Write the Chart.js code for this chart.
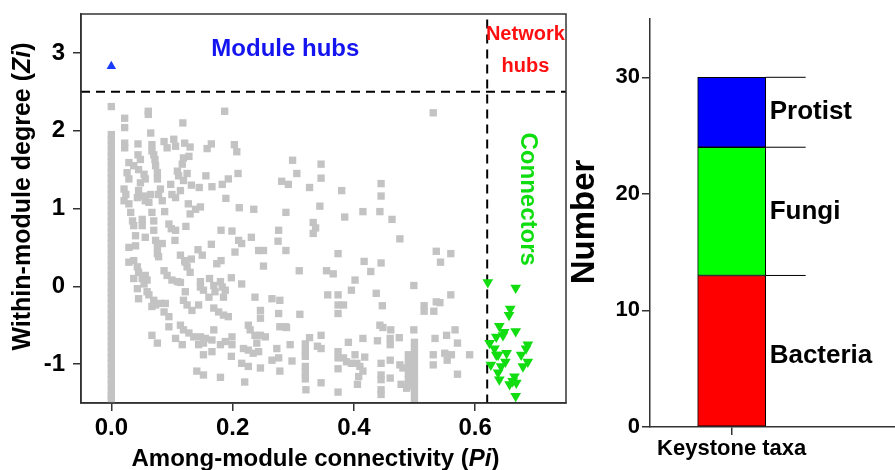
<!DOCTYPE html>
<html lang="en">
<head>
    <meta charset="UTF-8">
    <title>Keystone taxa</title>
    <script src="https://cdn.jsdelivr.net/npm/chart.js"></script>
    <style>
        body{
            margin: 0;
            background: #fff;
        }
        #wrap{
            position: relative;
            width: 895px;
            height: 470px;
            overflow: hidden;
        }
        #zp{ position: absolute; left: 0; top: 0; }
        #bar{ position: absolute; left: 565px; top: 0; }
    </style>
</head>
<body>
<div id="wrap">
    <canvas id="zp" width="575" height="470"></canvas>
    <canvas id="bar" width="330" height="470"></canvas>
</div>

<script>
// ---- data ----
const piTicks = [0, 0.2, 0.4, 0.6];
const ziTicks = [-1, 0, 1, 2, 3];
const piThreshold = 0.62;
const ziThreshold = 2.5;

// module hub (Pi, Zi)
const moduleHubs = [[0.0, 2.83]];

// connectors (Pi, Zi)
const connectors = [
    [0.621, 0.05], [0.667, -0.02], [0.658, -0.29], [0.656, -0.37],
    [0.640, -0.51], [0.648, -0.59], [0.646, -0.63], [0.667, -0.58],
    [0.635, -0.65], [0.624, -0.73], [0.632, -0.80], [0.635, -0.88],
    [0.638, -0.88], [0.652, -0.86], [0.676, -0.88], [0.687, -0.75],
    [0.684, -0.80], [0.687, -0.97], [0.679, -1.03], [0.650, -0.97],
    [0.643, -1.03], [0.626, -1.01], [0.638, -1.11], [0.640, -1.20],
    [0.665, -1.16], [0.662, -1.22], [0.657, -1.26], [0.668, -1.24],
    [0.667, -1.41]
];

// peripherals, column of nodes at Pi = 0
const peripheralsZero = [
    1.95, 1.88, 1.81, 1.74, 1.67, 1.60, 1.53, 1.46, 1.39, 1.32, 1.25, 1.18,
    1.11, 1.04, 0.97, 0.90, 0.83, 0.76, 0.69, 0.62, 0.55, 0.48, 0.41, 0.34,
    0.27, 0.20, 0.13, 0.06, -0.01, -0.08, -0.15, -0.22, -0.29, -0.36, -0.43,
    -0.50, -0.57, -0.64, -0.71, -0.78, -0.85, -0.92, -0.99, -1.06, -1.13,
    -1.20, -1.27, -1.34, -1.41, -1.45
];

// peripherals (Pi, Zi)
const peripherals = [
    [0.0, 2.31], [0.061, 2.25], [0.061, 2.21], [0.187, 2.25], [0.022, 2.16], [0.022, 2.04],
    [0.118, 2.10], [0.065, 1.97], [0.022, 1.84], [0.022, 1.78], [0.044, 1.83], [0.067, 1.82],
    [0.067, 1.74], [0.087, 1.86], [0.103, 1.89], [0.106, 1.80], [0.092, 1.78], [0.121, 1.84],
    [0.130, 1.79], [0.165, 1.83], [0.158, 1.77], [0.203, 1.82], [0.207, 1.73], [0.044, 1.69],
    [0.048, 1.63], [0.029, 1.59], [0.037, 1.55], [0.070, 1.69], [0.072, 1.63], [0.119, 1.65],
    [0.128, 1.67], [0.117, 1.57], [0.026, 1.46], [0.029, 1.38], [0.045, 1.50], [0.054, 1.44],
    [0.056, 1.38], [0.048, 1.33], [0.073, 1.55], [0.076, 1.46], [0.076, 1.38], [0.109, 1.48],
    [0.111, 1.42], [0.125, 1.45], [0.098, 1.31], [0.119, 1.36], [0.132, 1.30], [0.145, 1.27],
    [0.166, 1.28], [0.183, 1.31], [0.193, 1.38], [0.156, 1.42], [0.209, 1.45], [0.281, 1.35],
    [0.292, 1.31], [0.021, 1.25], [0.024, 1.18], [0.021, 1.10], [0.029, 1.06], [0.045, 1.23],
    [0.043, 1.14], [0.054, 1.16], [0.056, 1.10], [0.065, 1.18], [0.062, 1.08], [0.081, 1.25],
    [0.078, 1.18], [0.100, 1.18], [0.106, 1.14], [0.114, 1.23], [0.084, 1.10], [0.127, 1.06],
    [0.139, 0.99], [0.147, 1.02], [0.130, 0.93], [0.189, 1.13], [0.211, 1.01], [0.235, 0.99],
    [0.032, 0.95], [0.035, 0.84], [0.037, 0.78], [0.051, 0.86], [0.051, 0.78], [0.067, 0.95],
    [0.070, 0.84], [0.088, 0.96], [0.095, 0.80], [0.099, 0.74], [0.106, 0.72], [0.123, 0.77],
    [0.040, 0.65], [0.056, 0.63], [0.070, 0.72], [0.073, 0.59], [0.076, 0.50], [0.084, 0.55],
    [0.105, 0.59], [0.029, 0.50], [0.040, 0.52], [0.165, 0.54], [0.181, 0.72], [0.199, 0.71],
    [0.210, 0.59], [0.215, 0.55], [0.231, 0.63], [0.143, 0.47], [0.243, 0.46], [0.251, 0.46],
    [0.276, 0.72], [0.275, 0.58], [0.288, 0.95], [0.288, 0.46],
    [0.531, 2.23], [0.299, 1.62], [0.346, 1.57], [0.306, 1.45], [0.346, 1.39], [0.327, 1.27],
    [0.380, 1.23], [0.445, 1.32], [0.445, 1.16], [0.344, 1.03], [0.385, 0.89], [0.415, 0.96],
    [0.443, 0.96], [0.463, 0.86], [0.333, 0.82], [0.337, 0.75], [0.333, 0.68], [0.476, 0.61],
    [0.374, 0.42], [0.536, 0.45], [0.560, 0.42],
    [0.076, 0.42], [0.078, 0.38], [0.114, 0.40], [0.121, 0.33], [0.132, 0.35], [0.150, 0.40],
    [0.204, 0.44], [0.029, 0.31], [0.037, 0.33], [0.043, 0.25], [0.045, 0.18], [0.051, 0.10],
    [0.056, 0.14], [0.059, 0.08], [0.054, 0.03], [0.037, 0.10], [0.122, 0.31], [0.125, 0.25],
    [0.130, 0.18], [0.087, 0.20], [0.092, 0.14], [0.100, 0.08], [0.109, 0.06], [0.114, 0.05],
    [0.147, 0.06], [0.147, -0.01], [0.162, 0.10], [0.174, 0.29], [0.181, 0.33], [0.169, 0.01],
    [0.180, 0.06], [0.183, -0.01], [0.188, -0.05], [0.171, -0.07], [0.198, 0.11], [0.215, 0.03],
    [0.251, 0.26], [0.043, -0.03], [0.045, -0.16], [0.059, -0.07], [0.062, -0.11], [0.070, -0.18],
    [0.073, -0.24], [0.067, -0.26], [0.081, -0.22], [0.089, -0.22], [0.087, -0.33], [0.095, -0.39],
    [0.122, -0.07], [0.119, -0.18], [0.125, -0.24], [0.133, -0.31], [0.152, -0.05], [0.144, -0.24],
    [0.161, -0.14], [0.185, -0.14], [0.169, -0.28], [0.177, -0.33], [0.185, -0.37], [0.193, -0.39],
    [0.237, -0.14], [0.246, -0.31], [0.246, -0.41], [0.265, -0.16], [0.278, -0.18], [0.276, -0.35],
    [0.095, -0.52], [0.114, -0.50], [0.119, -0.56], [0.128, -0.60], [0.136, -0.65], [0.147, -0.65],
    [0.155, -0.67], [0.166, -0.69], [0.106, -0.67], [0.117, -0.75], [0.067, -0.63], [0.076, -0.73],
    [0.144, -0.75], [0.152, -0.73], [0.152, -0.88], [0.166, -0.84], [0.169, -0.56], [0.180, -0.75],
    [0.188, -0.71], [0.199, -0.65], [0.199, -0.75], [0.198, -0.90], [0.226, -0.50], [0.229, -0.56],
    [0.237, -0.63], [0.246, -0.63], [0.254, -0.65], [0.218, -0.80], [0.226, -0.82], [0.234, -0.86],
    [0.243, -0.84], [0.240, -0.73], [0.273, -0.80], [0.265, -0.95], [0.276, -0.92], [0.278, -0.52],
    [0.287, -0.52], [0.215, -0.99], [0.226, -1.03], [0.246, -1.05], [0.278, -1.09], [0.141, -1.09],
    [0.152, -1.14], [0.180, -1.17], [0.220, -1.23],
    [0.543, 0.31], [0.417, 0.32], [0.445, 0.30], [0.428, 0.19], [0.310, 0.20], [0.355, 0.20],
    [0.366, 0.16], [0.402, 0.08], [0.396, -0.05], [0.499, 0.01], [0.357, -0.11], [0.374, -0.11],
    [0.437, -0.09], [0.560, -0.11], [0.374, -0.24], [0.383, -0.24], [0.374, -0.35], [0.447, -0.25],
    [0.516, -0.25], [0.516, -0.32], [0.536, -0.20], [0.542, -0.21], [0.532, -0.32], [0.311, -0.36],
    [0.289, -0.53], [0.443, -0.50], [0.448, -0.53], [0.461, -0.56], [0.499, -0.56], [0.567, -0.56],
    [0.327, -0.66], [0.346, -0.63], [0.415, -0.67], [0.391, -0.72], [0.439, -0.70], [0.460, -0.67],
    [0.460, -0.75], [0.475, -0.66], [0.534, -0.67], [0.553, -0.63], [0.571, -0.73], [0.295, -0.75],
    [0.320, -0.74], [0.320, -0.82], [0.320, -0.90], [0.320, -1.03], [0.320, -1.11], [0.320, -1.19],
    [0.340, -0.77], [0.346, -0.80], [0.298, -0.96], [0.374, -0.84], [0.374, -0.92], [0.383, -0.92],
    [0.388, -0.97], [0.396, -0.99], [0.402, -0.88], [0.405, -0.99], [0.410, -1.03], [0.415, -1.09],
    [0.408, -1.16], [0.418, -0.91], [0.374, -1.06], [0.445, -0.99], [0.445, -1.14], [0.445, -1.20],
    [0.445, -1.33], [0.445, -1.39], [0.460, -0.95], [0.460, -1.18], [0.476, -1.01], [0.481, -1.05],
    [0.478, -1.26], [0.487, -1.31],
    [0.500, -0.72], [0.500, -0.80], [0.500, -0.88], [0.500, -0.96], [0.500, -1.04], [0.500, -1.12],
    [0.500, -1.20], [0.500, -1.28], [0.500, -1.36], [0.500, -1.44], [0.490, -0.88], [0.490, -0.96],
    [0.490, -1.04], [0.490, -1.12], [0.490, -1.20], [0.490, -1.28],
    [0.531, -0.88], [0.531, -1.01], [0.550, -0.86], [0.554, -0.95], [0.561, -0.88], [0.591, -0.88],
    [0.571, -1.13], [0.346, -1.24], [0.406, -1.26], [0.321, -1.33], [0.374, -1.36]
];

// keystone taxa counts
const taxa = ['Bacteria', 'Fungi', 'Protist'];
const taxaCounts = [13, 11, 6];
const taxaColors = ['#ff0000', '#00ff00', '#0000ff'];
const numberTicks = [0, 10, 20, 30];
const barCategory = 'Keystone taxa';

// ---- helpers ----
const FONT = '"Liberation Sans", Arial, sans-serif';
const toXY = p => ({ x: p[0], y: p[1] });

function drawRich(ctx, parts, cx, cy, rot) {
    ctx.save();
    ctx.translate(cx, cy);
    ctx.rotate(rot);
    let total = 0;
    parts.forEach(p => { ctx.font = p.font; total += ctx.measureText(p.text).width; });
    let x = -total / 2;
    ctx.textBaseline = 'middle';
    ctx.textAlign = 'left';
    parts.forEach(p => {
        ctx.font = p.font;
        ctx.fillStyle = p.color || '#000';
        ctx.fillText(p.text, x, 0);
        x += ctx.measureText(p.text).width;
    });
    ctx.restore();
}

// fixed axis sizes, no extra padding for tick labels
function fixSize(w, h) {
    return s => {
        if (w) s.width = w;
        if (h) s.height = h;
        s.paddingTop = 0; s.paddingBottom = 0;
        s.paddingLeft = 0; s.paddingRight = 0;
    };
}

// ---- Zi-Pi scatter ----
const piMin = -0.05, piMax = 0.75, ziMin = -1.5, ziMax = 3.5;

const zpDecor = {
    id: 'zpDecor',
    afterDatasetsDraw(chart) {
        const { ctx, chartArea: a, scales: { x, y } } = chart;
        ctx.save();
        ctx.strokeStyle = '#333';
        ctx.lineWidth = 1.5;
        ctx.strokeRect(a.left, a.top, a.right - a.left, a.bottom - a.top);
        ctx.restore();

        const b = 'bold ';
        drawRich(ctx, [{ text: 'Module hubs', font: b + '24px ' + FONT, color: '#1414f0' }],
            x.getPixelForValue(0.287), y.getPixelForValue(3.04), 0);
        drawRich(ctx, [{ text: 'Network', font: b + '20px ' + FONT, color: '#ff1010' }],
            x.getPixelForValue(0.683), y.getPixelForValue(3.24), 0);
        drawRich(ctx, [{ text: 'hubs', font: b + '20px ' + FONT, color: '#ff1010' }],
            x.getPixelForValue(0.683), y.getPixelForValue(2.82), 0);
        drawRich(ctx, [{ text: 'Connectors', font: b + '24px ' + FONT, color: '#10dd10' }],
            x.getPixelForValue(0.686), y.getPixelForValue(1.12), Math.PI / 2);

        drawRich(ctx, [
            { text: 'Within-module degree (', font: b + '25px ' + FONT },
            { text: 'Zi', font: 'italic bold 25px ' + FONT },
            { text: ')', font: b + '25px ' + FONT }
        ], 23, (a.top + a.bottom) / 2 - 12, -Math.PI / 2);
        drawRich(ctx, [
            { text: 'Among-module connectivity (', font: b + '24px ' + FONT },
            { text: 'Pi', font: 'italic bold 24px ' + FONT },
            { text: ')', font: b + '24px ' + FONT }
        ], (a.left + a.right) / 2 - 8, 459, 0);
    }
};

new Chart(document.getElementById('zp'), {
    type: 'scatter',
    data: {
        datasets: [
            {
                label: 'Module hubs',
                data: moduleHubs.map(toXY),
                pointStyle: 'triangle',
                pointRadius: 5.5,
                backgroundColor: '#1a3cff',
                borderWidth: 0
            },
            {
                label: 'Connectors',
                data: connectors.map(toXY),
                pointStyle: 'triangle',
                rotation: 180,
                pointRadius: 6.2,
                backgroundColor: '#11dd11',
                borderWidth: 0
            },
            {
                label: 'Zi threshold',
                data: [{ x: piMin, y: ziThreshold }, { x: piMax, y: ziThreshold }],
                showLine: true,
                borderColor: '#000',
                borderWidth: 2,
                borderDash: [9, 6],
                pointRadius: 0
            },
            {
                label: 'Pi threshold',
                data: [{ x: piThreshold, y: ziMax - 0.07 }, { x: piThreshold, y: ziMin }],
                showLine: true,
                borderColor: '#000',
                borderWidth: 2,
                borderDash: [9, 6],
                pointRadius: 0
            },
            {
                label: 'Peripherals',
                data: peripherals.map(toXY).concat(peripheralsZero.map(z => ({ x: 0, y: z }))),
                pointStyle: 'rect',
                pointRadius: 5.2,
                backgroundColor: '#c3c3c3',
                borderWidth: 0
            }
        ]
    },
    options: {
        responsive: false,
        animation: false,
        layout: { padding: { top: 14, right: 9, left: 0, bottom: 0 } },
        plugins: { legend: { display: false }, tooltip: { enabled: false } },
        scales: {
            x: {
                type: 'linear',
                min: piMin,
                max: piMax,
                afterBuildTicks: s => { s.ticks = piTicks.map(v => ({ value: v })); },
                afterFit: fixSize(0, 67),
                ticks: {
                    color: '#000',
                    padding: 5,
                    font: { family: FONT, size: 24, weight: 'bold', lineHeight: 1 },
                    callback: v => v.toFixed(1)
                },
                grid: { drawOnChartArea: false, drawTicks: true, tickLength: 8, color: '#333', lineWidth: 1.5 },
                border: { display: true, color: '#333', width: 1.5 }
            },
            y: {
                type: 'linear',
                min: ziMin,
                max: ziMax,
                afterBuildTicks: s => { s.ticks = ziTicks.map(v => ({ value: v })); },
                afterFit: fixSize(81, 0),
                ticks: {
                    color: '#000',
                    padding: 8,
                    font: { family: FONT, size: 24, weight: 'bold', lineHeight: 1 },
                    callback: v => String(v)
                },
                grid: { drawOnChartArea: false, drawTicks: true, tickLength: 8, color: '#333', lineWidth: 1.5 },
                border: { display: true, color: '#333', width: 1.5 }
            }
        }
    },
    plugins: [zpDecor]
});

// ---- keystone taxa stacked bar ----
const barDecor = {
    id: 'barDecor',
    afterDatasetsDraw(chart) {
        const { ctx } = chart;
        ctx.save();
        chart.data.datasets.forEach((ds, i) => {
            const el = chart.getDatasetMeta(i).data[0];
            const right = el.x + el.width / 2;
            ctx.strokeStyle = '#000';
            ctx.lineWidth = 1;
            ctx.beginPath();
            ctx.moveTo(right, el.y);
            ctx.lineTo(right + 40, el.y);
            ctx.stroke();
            ctx.font = 'bold 26px ' + FONT;
            ctx.fillStyle = '#000';
            ctx.textAlign = 'left';
            ctx.textBaseline = 'middle';
            ctx.fillText(ds.label, right + 4, (el.y + el.base) / 2 + (i === 0 ? 5 : 0));
        });
        ctx.restore();
        drawRich(ctx, [{ text: 'Number', font: 'bold 33px ' + FONT }], 20, 222, -Math.PI / 2);
    }
};

new Chart(document.getElementById('bar'), {
    type: 'bar',
    data: {
        datasets: taxa.map((t, i) => ({
            label: t,
            data: [{ x: 1, y: taxaCounts[i] }],
            backgroundColor: taxaColors[i],
            borderColor: '#000',
            borderWidth: 1,
            borderSkipped: false,
            barThickness: 68
        }))
    },
    options: {
        responsive: false,
        animation: false,
        layout: { padding: { top: 19, right: 0, left: 0, bottom: 0 } },
        plugins: { legend: { display: false }, tooltip: { enabled: false } },
        scales: {
            x: {
                type: 'linear',
                stacked: true,
                offset: false,
                min: 0,
                max: 3,
                afterBuildTicks: s => { s.ticks = [{ value: 1 }]; },
                afterFit: fixSize(0, 43),
                ticks: {
                    color: '#000',
                    padding: 3,
                    font: { family: FONT, size: 22, weight: 'bold', lineHeight: 1 },
                    callback: () => barCategory
                },
                grid: { offset: false, drawOnChartArea: false, drawTicks: true, tickLength: 8, color: '#333', lineWidth: 1.5 },
                border: { display: true, color: '#333', width: 1.5 }
            },
            y: {
                type: 'linear',
                stacked: true,
                min: 0,
                max: 35,
                afterBuildTicks: s => { s.ticks = numberTicks.map(v => ({ value: v })); },
                afterFit: fixSize(85, 0),
                ticks: {
                    color: '#000',
                    padding: 2,
                    font: { family: FONT, size: 22, weight: 'bold', lineHeight: 1 }
                },
                grid: { drawOnChartArea: false, drawTicks: true, tickLength: 8, color: '#333', lineWidth: 1.5 },
                border: { display: true, color: '#333', width: 1.5 }
            }
        }
    },
    plugins: [barDecor]
});
</script>
</body>
</html>
